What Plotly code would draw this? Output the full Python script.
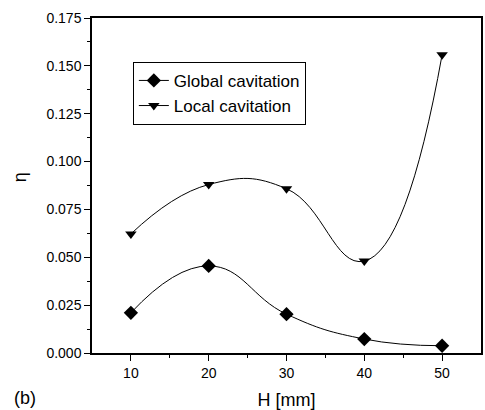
import plotly.graph_objects as go

H = [10, 20, 30, 40, 50]
global_cav = [0.021, 0.0455, 0.0203, 0.0073, 0.0038]
local_cav = [0.0622, 0.0880, 0.0858, 0.0480, 0.1558]

x_ticks = [10, 20, 30, 40, 50]
y_ticks = [0.0, 0.025, 0.05, 0.075, 0.1, 0.125, 0.15, 0.175]
y_tick_text = ["0.000", "0.025", "0.050", "0.075", "0.100", "0.125", "0.150", "0.175"]

FONT = "Liberation Sans, Arial, sans-serif"

fig = go.Figure()
fig.add_trace(go.Scatter(
    x=H, y=global_cav, name="Global cavitation",
    mode="lines+markers",
    line=dict(color="black", width=1, shape="spline", smoothing=1.3),
    marker=dict(symbol="diamond", size=11, color="black"),
))
fig.add_trace(go.Scatter(
    x=H, y=local_cav, name="Local cavitation",
    mode="lines+markers",
    line=dict(color="black", width=1, shape="spline", smoothing=1.3),
    marker=dict(symbol="triangle-down", size=10, color="black"),
))

axis_common = dict(
    showline=True, linecolor="black", linewidth=1.5, mirror=True,
    showgrid=False, zeroline=False,
    ticks="outside", ticklen=6, tickwidth=1.2, tickcolor="black",
    tickfont=dict(family=FONT, size=14, color="black"),
)

fig.update_xaxes(
    range=[5, 55], tickvals=x_ticks,
    minor=dict(tickvals=[15, 25, 35, 45], ticks="outside", ticklen=3, tickwidth=1.2, tickcolor="black"),
    title=dict(text="H [mm]", font=dict(family=FONT, size=18, color="black"), standoff=14),
    **axis_common,
)
fig.update_yaxes(
    range=[0, 0.175], tickvals=y_ticks, ticktext=y_tick_text,
    minor=dict(dtick=0.0125, ticks="outside", ticklen=3, tickwidth=1.2, tickcolor="black"),
    **axis_common,
)

fig.update_layout(
    width=485, height=410,
    margin=dict(l=92, r=2, t=18, b=57),
    paper_bgcolor="white", plot_bgcolor="white",
    showlegend=True,
    legend=dict(
        x=0.105, y=0.869, xanchor="left", yanchor="top",
        bordercolor="black", borderwidth=1, bgcolor="white",
        font=dict(family=FONT, size=17, color="black"),
        itemwidth=30,
    ),
)

fig.add_annotation(
    x=(20 - 92) / 391, y=(353 - 177) / 335, xref="paper", yref="paper",
    xanchor="center", yanchor="middle",
    text="η", showarrow=False, textangle=-90,
    font=dict(family=FONT, size=18, color="black"),
)
fig.add_annotation(
    x=(25 - 92) / 391, y=(353 - 398) / 335, xref="paper", yref="paper",
    xanchor="center", yanchor="middle",
    text="(b)", showarrow=False,
    font=dict(family=FONT, size=18, color="black"),
)

fig.write_html("out.html")
